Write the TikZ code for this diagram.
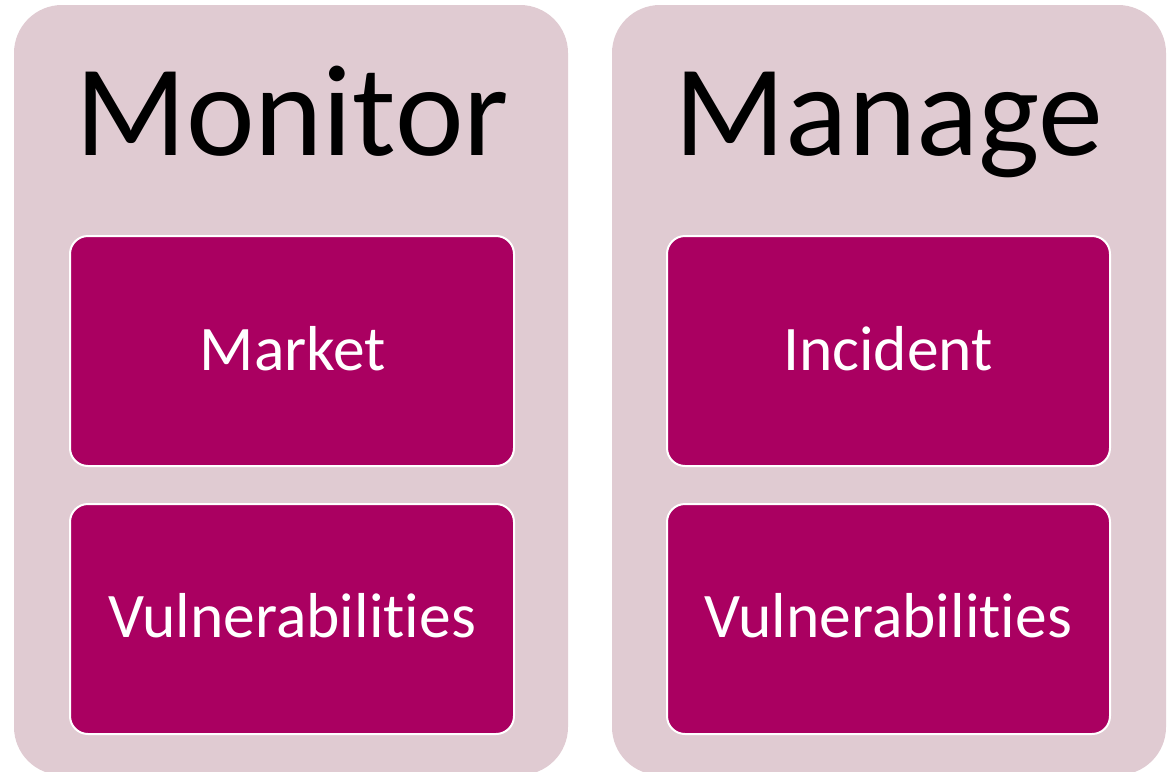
\documentclass[tikz,border=0pt]{standalone}
\usepackage{fontspec}
\setmainfont{Carlito}[Ligatures={NoCommon,NoRare,NoContextual}]
\definecolor{panelfill}{RGB}{224,203,210}
\definecolor{boxfill}{RGB}{170,0,97}
\begin{document}
\begin{tikzpicture}[x=1pt,y=-1pt,
  panel/.style={fill=panelfill, rounded corners=48pt},
  itembox/.style={fill=boxfill, draw=white, line width=2pt, rounded corners=18pt},
  titletext/.style={anchor=base, inner sep=0pt, font=\fontsize{130}{150}\selectfont, text=black},
  itemtext/.style={anchor=base, inner sep=0pt, font=\fontsize{63.5}{74}\selectfont, text=white}]
\useasboundingbox (0,0) rectangle (1169,771);
% panels
\path[panel] (14,5) rectangle (568,775);
\path[panel] (612,5) rectangle (1166,775);
% inner boxes
\path[itembox] (70,236) rectangle (514,466);
\path[itembox] (70,504) rectangle (514,734);
\path[itembox] (667,236) rectangle (1110,466);
\path[itembox] (667,504) rectangle (1110,734);
% texts
\node[titletext] (t1) at (292,155) {Monitor};
\node[titletext] (t2) at (889,155) {Manage};
\node[itemtext] (a1) at (293,370) {Market};
\node[itemtext] (a2) at (292,637) {Vulnerabilities};
\node[itemtext] (b1) at (888,370) {Incident};
\node[itemtext] (b2) at (888,637) {Vulnerabilities};
\end{tikzpicture}
\end{document}
